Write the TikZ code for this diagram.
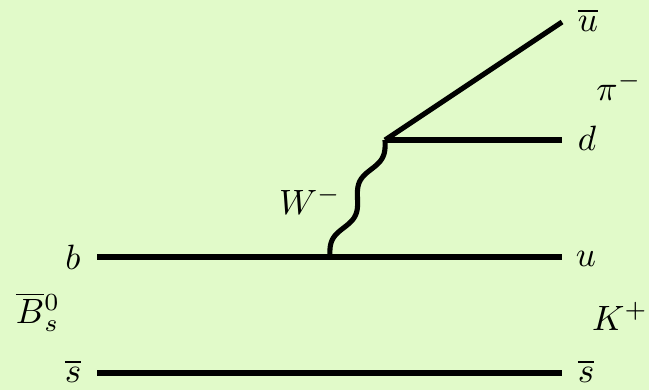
\documentclass[tikz,border=0pt]{standalone}
\usepackage{amsmath}
\usepackage{tikz}
\usetikzlibrary{calc, positioning}
\definecolor{bgcol}{RGB}{225,250,201}

\begin{document}
\begin{tikzpicture}[
    x=0.01cm, y=-0.01cm,
    every node/.style={font=\normalsize},
    quark/.style={line width=1.45pt, line cap=butt},
    boson/.style={line width=1.45pt, line join=round},
    lbl/.style={inner sep=0pt},
]

\fill[bgcol] (0,0) rectangle (649,390);
\useasboundingbox (0,0) rectangle (649,390);

% vertices and line ends
\coordinate (bin) at (97,257);
\coordinate (vtx1) at (330,257);
\coordinate (uout) at (562,257);
\coordinate (sin) at (97,373);
\coordinate (sout) at (562,373);
\coordinate (vtx2) at (385,140);
\coordinate (dout) at (562,140);
\coordinate (ubout) at (562,22);

% lines
\draw[quark] (bin) -- (uout);
\draw[quark] (sin) -- (sout);
\draw[quark] (vtx2) -- (dout);
\draw[quark] (vtx2) -- (ubout);
% W propagator: two periods of a sine between the vertices
\draw[boson] let \p1=(vtx1), \p2=(vtx2), \n1={veclen(\x2-\x1,\y2-\y1)} in
    plot[domain=0:1, samples=90, smooth, variable=\t]
    ({\x1+\t*(\x2-\x1)-1.5pt*sin(720*\t)*(\y2-\y1)/\n1},
     {\y1+\t*(\y2-\y1)+1.5pt*sin(720*\t)*(\x2-\x1)/\n1});

% labels
\node[lbl, anchor=base] (lb) at (73,269) {$b$};
\node[lbl, anchor=base] (lsin) at (73,382) {$\overline{s}$};
\node[lbl] (lB) at (38,312) {$\overline{B}{}^0_s$};
\node[lbl, anchor=base] (lu) at (586,266) {$u$};
\node[lbl, anchor=base] (lsout) at (586,382) {$\overline{s}$};
\node[lbl] (lK) at (620,316) {$K^+$};
\node[lbl, anchor=base] (ld) at (587,150) {$d$};
\node[lbl] (lpi) at (619,86) {$\pi^-$};
\node[lbl, anchor=base] (lub) at (588,31) {$\overline{u}$};
\node[lbl] (lW) at (310,200) {$W^-$};
\end{tikzpicture}
\end{document}
